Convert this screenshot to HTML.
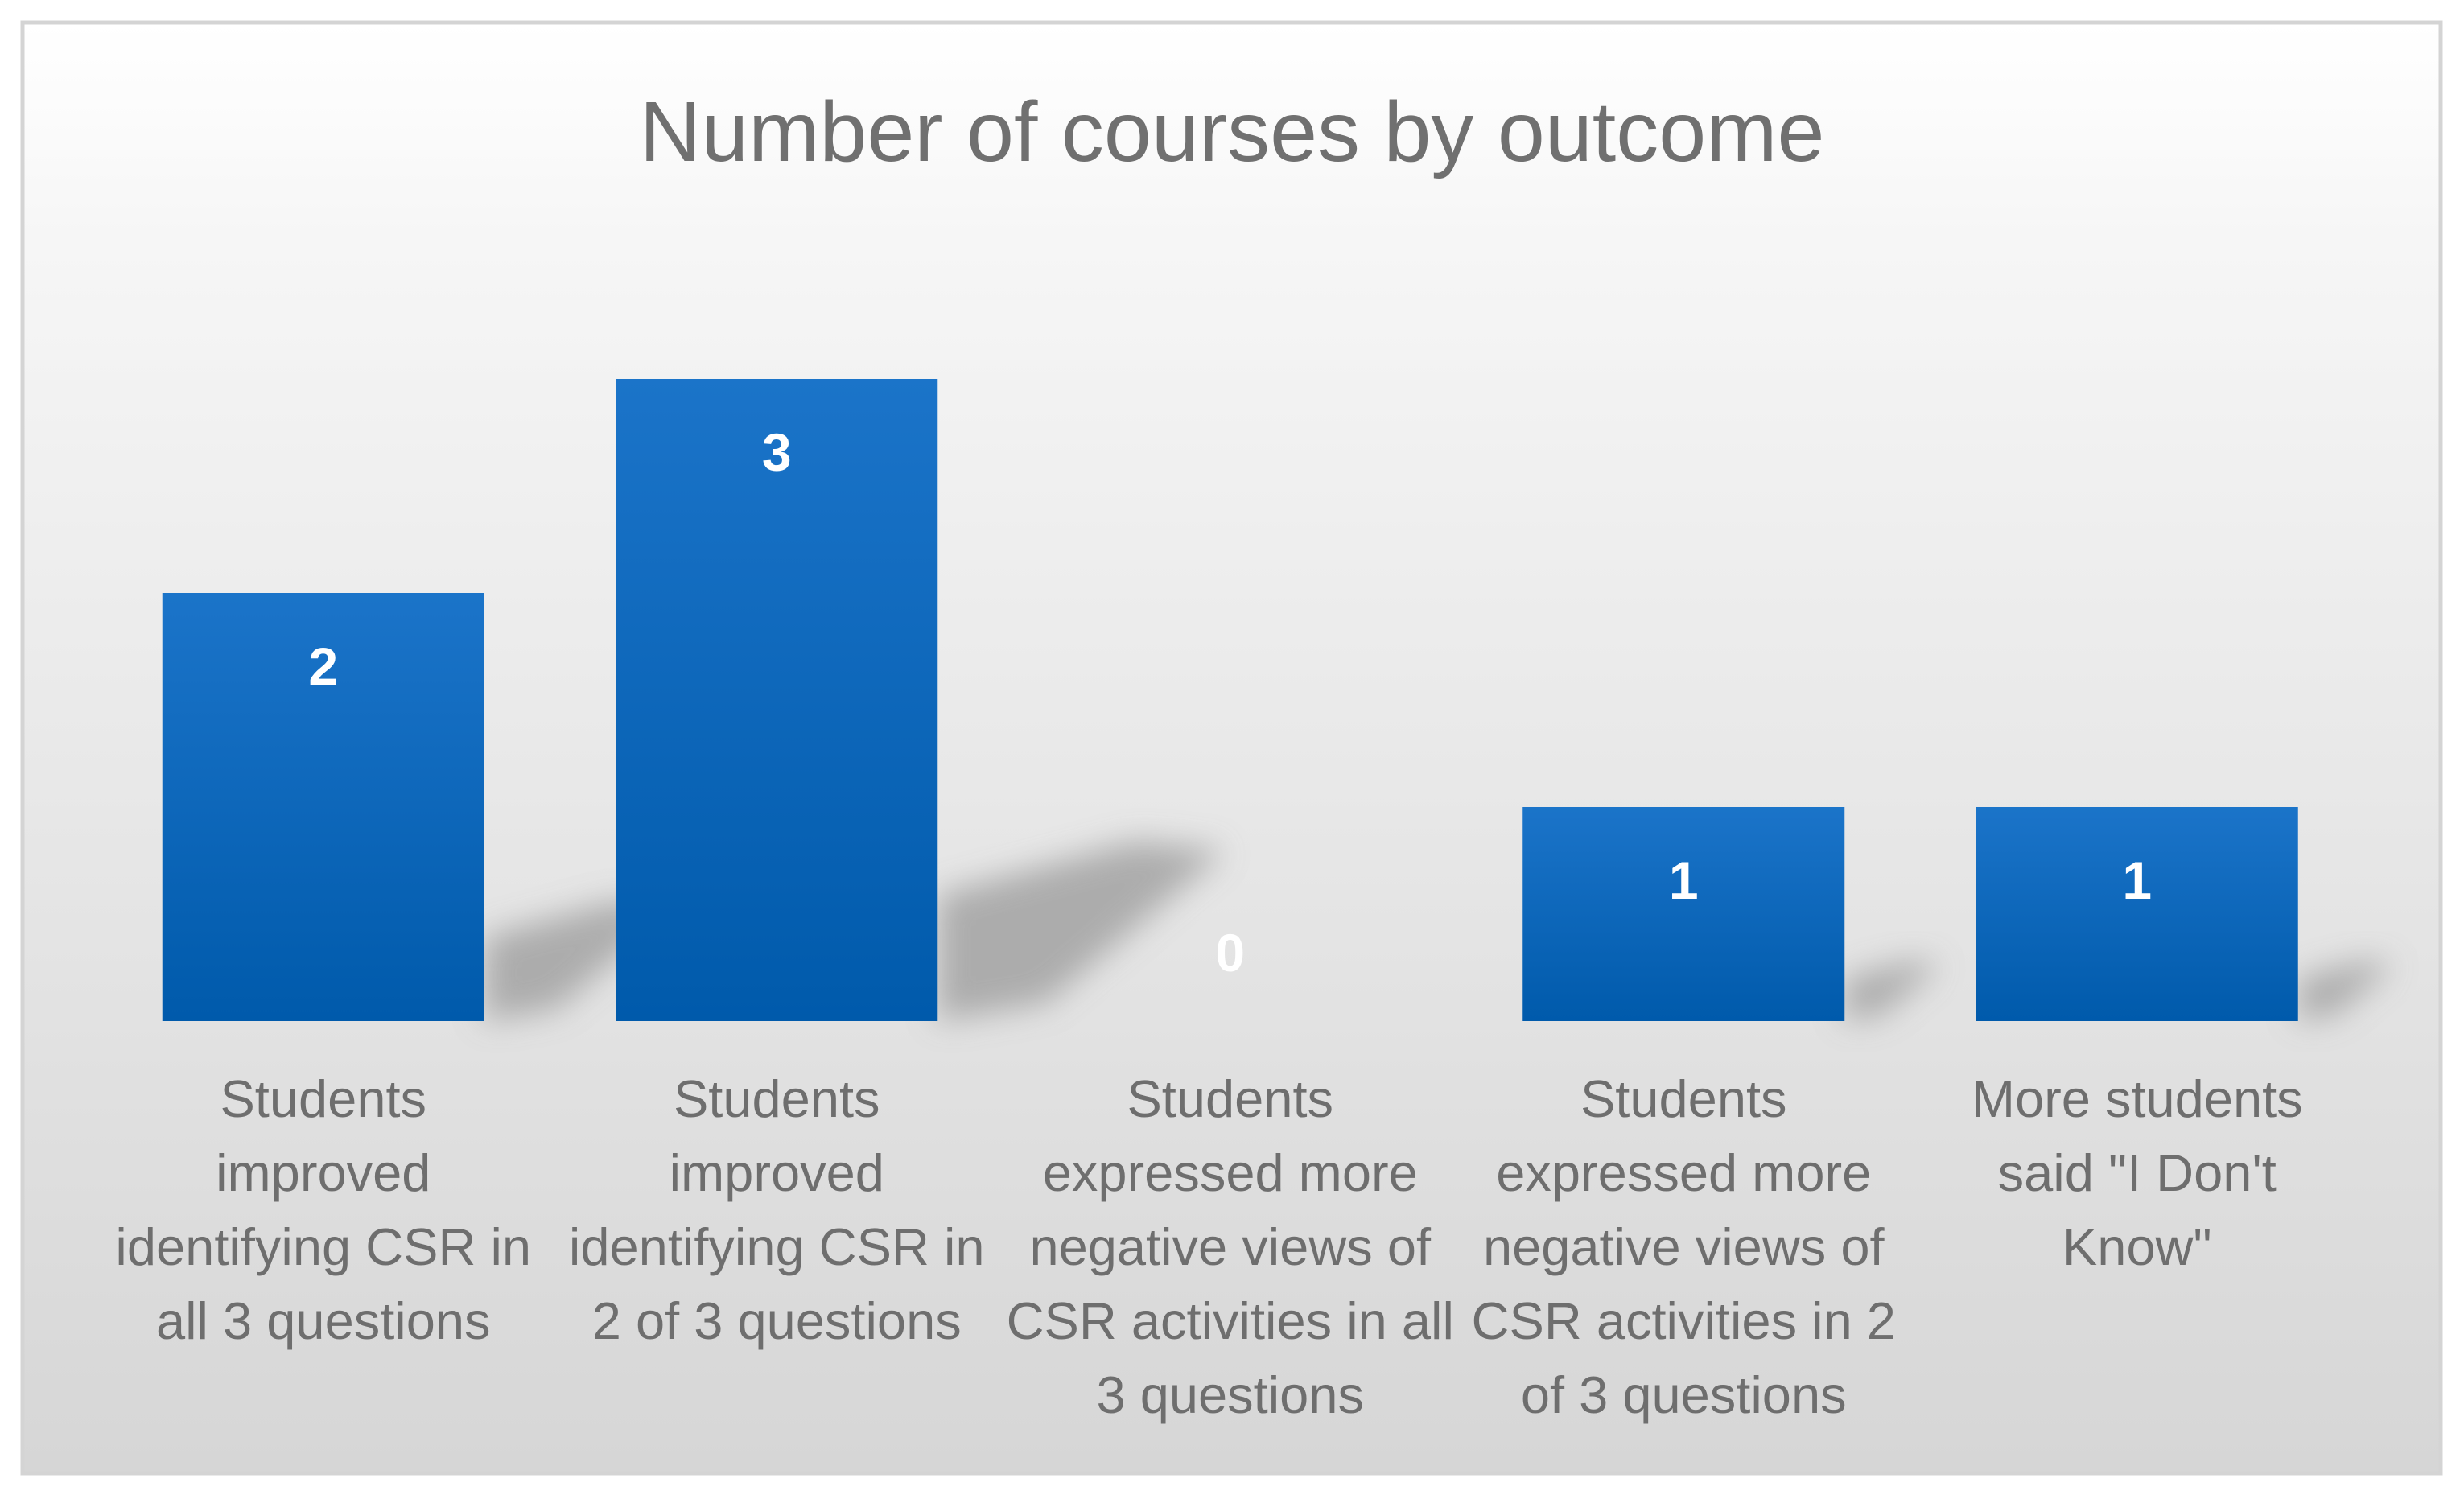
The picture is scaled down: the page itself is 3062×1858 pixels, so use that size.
<!DOCTYPE html>
<html><head><meta charset="utf-8"><style>
html,body{margin:0;padding:0;background:#fff;}
svg{display:block;}
</style></head><body>
<svg id="chart" width="3062" height="1858" xmlns="http://www.w3.org/2000/svg" font-family="'Liberation Sans', sans-serif">
<defs>
<linearGradient id="bg" x1="0" y1="0" x2="0" y2="1">
<stop offset="0" stop-color="#ffffff"/><stop offset="0.15" stop-color="#f6f6f6"/><stop offset="1" stop-color="#d6d6d6"/>
</linearGradient>
<linearGradient id="barg" x1="0" y1="0" x2="0" y2="1">
<stop offset="0" stop-color="#1b74c9"/><stop offset="1" stop-color="#005aab"/>
</linearGradient>
<filter id="blur" x="-50%" y="-50%" width="200%" height="200%"><feGaussianBlur stdDeviation="20"/></filter>
</defs>
<rect x="28" y="28" width="3005" height="1803" fill="url(#bg)" stroke="#d4d4d4" stroke-width="5"/>
<text x="1531" y="200" text-anchor="middle" font-size="106" fill="#707070">Number of courses by outcome</text>
<g id="shadows"></g>
<g id="bars"></g>
<g id="labels"></g>
</svg>
<script>
const categories = [
 ["Students","improved","identifying CSR in","all 3 questions"],
 ["Students","improved","identifying CSR in","2 of 3 questions"],
 ["Students","expressed more","negative views of","CSR activities in all","3 questions"],
 ["Students","expressed more","negative views of","CSR activities in 2","of 3 questions"],
 ["More students","said \"I Don't","Know\""]
];
const values = [2, 3, 0, 1, 1];
const NS = "http://www.w3.org/2000/svg";
const baseY = 1269, unit = 266, x0 = 120, step = 563.5, barW = 400;
const xC = i => x0 + step * (i + 0.5);
const yV = v => baseY - v * unit;
const sh = document.getElementById('shadows'), bg = document.getElementById('bars'), lg = document.getElementById('labels');
values.forEach((v, i) => {
  const cx = xC(i), top = yV(v);
  if (v > 0) {
    const s = document.createElementNS(NS, 'polygon');
    
    
    const h = (baseY - top) * 0.28;
    const e = cx + barW/2;
    s.setAttribute('points', `${e},${baseY} ${e},${baseY - h*0.7} ${e + h*1.1},${baseY - h} ${e + h*1.6},${baseY - h*0.95} ${e + h*0.6},${baseY - h*0.1}`);
    s.setAttribute('fill', '#9a9a9a');
    s.setAttribute('opacity', '0.75');
    s.setAttribute('filter', 'url(#blur)');
    sh.appendChild(s);
    const r = document.createElementNS(NS, 'rect');
    
    
    r.setAttribute('x', cx - barW/2); r.setAttribute('y', top);
    r.setAttribute('width', barW); r.setAttribute('height', baseY - top);
    r.setAttribute('fill', 'url(#barg)');
    bg.appendChild(r);
  }
  const t = document.createElementNS(NS, 'text');
  
  
  t.setAttribute('x', cx);
  t.setAttribute('y', v > 0 ? top + 114 : baseY - 62);
  t.setAttribute('text-anchor', 'middle');
  t.setAttribute('font-size', '66'); t.setAttribute('font-weight', 'bold');
  t.setAttribute('fill', '#ffffff');
  t.textContent = v;
  lg.appendChild(t);
  categories[i].forEach((line, j) => {
    const c = document.createElementNS(NS, 'text');
    
    
    c.setAttribute('x', cx); c.setAttribute('y', 1388 + j * 92);
    c.setAttribute('text-anchor', 'middle');
    c.setAttribute('font-size', '65'); c.setAttribute('fill', '#6e6e6e');
    c.textContent = line;
    lg.appendChild(c);
  });
});
</script>
</body></html>
